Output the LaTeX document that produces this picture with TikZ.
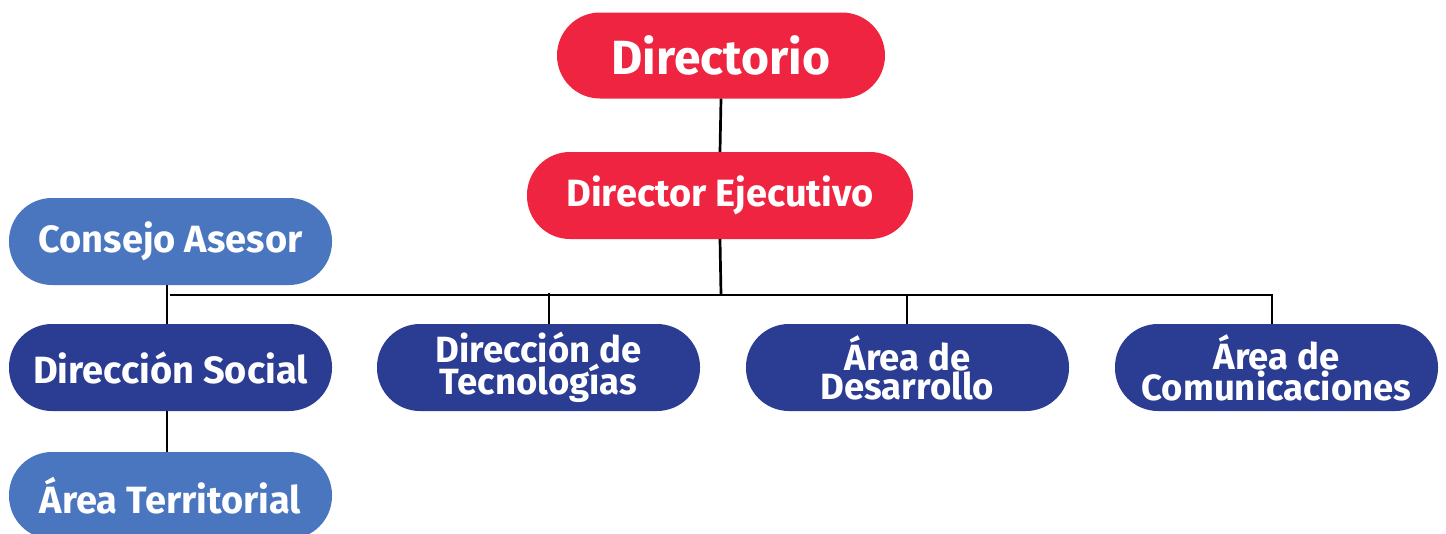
\documentclass[tikz,border=0pt]{standalone}
\usepackage{fontspec}
\setmainfont{Fira Sans}
\definecolor{redbox}{HTML}{EE2440}
\definecolor{lightbox}{HTML}{4A76C0}
\definecolor{darkbox}{HTML}{2B3C93}
\tikzset{
  pill/.style={rectangle, rounded corners=43pt, minimum width=323pt, minimum height=87pt,
    inner sep=0pt, text=white, font=\bfseries\fontsize{38}{29}\selectfont, align=center},
  twoline/.style={font=\bfseries\fontsize{36.5}{29}\selectfont},
  redpill/.style={pill, fill=redbox},
  lightpill/.style={pill, fill=lightbox},
  darkpill/.style={pill, fill=darkbox},
  link/.style={draw=black, line width=2.7pt}
}
\begin{document}
\begin{tikzpicture}[x=1pt,y=-1pt]
\useasboundingbox (0,0) rectangle (1446,533);
\clip (0,0) rectangle (1446,533);
\node[redpill, minimum width=328pt, minimum height=86pt, font=\bfseries\fontsize{48}{48}\selectfont] (dir) at (721,55.5) {Directorio};
\node[redpill, minimum width=386pt] (ejec) at (720,195.5) {Director Ejecutivo};
\node[lightpill] (cons) at (170.5,241.5) {Consejo Asesor};
\node[darkpill] (soc) at (170.5,367.5) {Dirección Social};
\node[lightpill] (terr) at (170.5,495.5) {Área Territorial};
\node[darkpill, twoline] (tec) at (538.5,367.5) {Dirección de\\Tecnologías};
\node[darkpill, twoline] (des) at (907.5,367.5) {Área de\\Desarrollo};
\node[darkpill, twoline] (com) at (1276.5,367.5) {Área de\\Comunicaciones};
\coordinate (bus) at (721,295);
\coordinate (busL) at (170,295);
\coordinate (busR) at (1272,295);
\coordinate (tecTop) at (549,293);
\coordinate (desTop) at (907,295);
\draw[link] (dir.south) -- (ejec.north);
\draw[link] (ejec.south) -- (bus);
\draw[link] (busL) -- (busR) -- (busR |- com.north);
\draw[link] (tecTop) -- (tecTop |- tec.north);
\draw[link] (desTop) -- (desTop |- des.north);
\draw[link] ([xshift=-3.5pt]cons.south) -- ([xshift=-3.5pt]soc.north);
\draw[link] ([xshift=-3.5pt]soc.south) -- ([xshift=-3.5pt]terr.north);
\end{tikzpicture}
\end{document}
